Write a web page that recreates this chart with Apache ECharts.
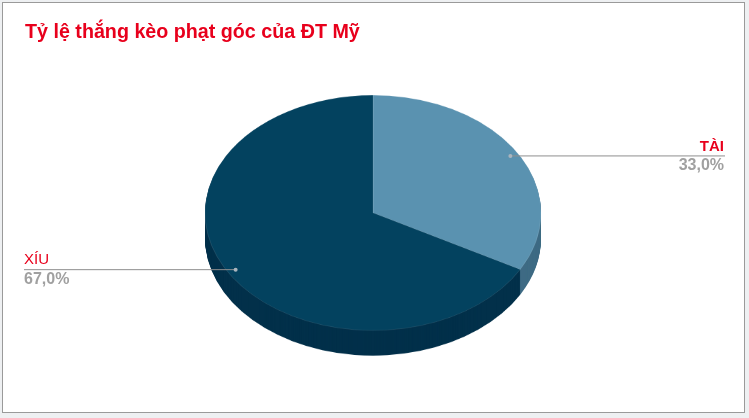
<!DOCTYPE html>
<html lang="vi">
<head>
  <meta charset="UTF-8">
  <title>Tỷ lệ thắng kèo phạt góc của ĐT Mỹ</title>
  <script src="https://cdn.jsdelivr.net/npm/echarts@6/dist/echarts.min.js"></script>
  <style type="text/css">
    html, body { margin: 0; padding: 0; background: #eef0f2; overflow: hidden; }
    #wrap { position: relative; width: 749px; height: 418px; overflow: hidden; }
    /* white chart area with the grey excel frame */
    #frame { position: absolute; left: 2px; top: 2px; width: 741px; height: 409px;
             background: #ffffff; border: 1px solid #9a9a9a; }
    /* pie is drawn round then flattened to look like the tilted excel pie */
    #pie { position: absolute; left: 0; top: 0; width: 749px; height: 600px;
           transform: scaleY(0.7); transform-origin: 0 0; }
    #main { position: absolute; left: 0; top: 0; width: 749px; height: 418px; pointer-events: none; }
  </style>
</head>
<body>
<div id="wrap">
  <div id="frame"></div>
  <div id="pie"></div>
  <div id="main"></div>
</div>

<script type="text/javascript">
// data
var categories = ['TÀI', 'XÍU'];
var values = [33.0, 67.0];
var topColors = ['#5a92b0', '#03425f'];
var sideColors = ['#3e6b84', '#02304a'];

var squash = 0.7;
var depth = 36;          // wall thickness before squash
var cx = 373, cy = 304, radius = 168;

var pieData = [];
for (var i = 0; i < categories.length; i++) {
  pieData.push({name: categories[i], value: values[i]});
}

// side wall: the same pie repeated a little lower each time
var series = [];
for (var d = depth; d >= 1; d--) {
  series.push({
    type: 'pie',
    silent: true,
    animation: false,
    center: [cx, cy + d],
    radius: radius,
    startAngle: 90,
    clockwise: true,
    label: {show: false},
    labelLine: {show: false},
    itemStyle: {
      color: function (p) { return sideColors[p.dataIndex]; },
      borderWidth: 0
    },
    data: pieData
  });
}
// top face
series.push({
  type: 'pie',
  animation: false,
  center: [cx, cy],
  radius: radius,
  startAngle: 90,
  clockwise: true,
  label: {show: false},
  labelLine: {show: false},
  itemStyle: {
    color: function (p) { return topColors[p.dataIndex]; },
    borderColor: 'rgba(255,255,255,0.18)',
    borderWidth: 0.6
  },
  data: pieData
});

var pieChart = echarts.init(document.getElementById('pie'), null, {renderer: 'canvas'});
pieChart.setOption({ animation: false, series: series });

// labels, leader lines, title go on an unsquashed layer
var topData = pieChart.getModel().getSeriesByIndex(series.length - 1).getData();
var total = values.reduce(function (a, b) { return a + b; }, 0);

function fmt(v) {
  return (v / total * 100).toFixed(1).replace('.', ',') + '%';
}

var graphics = [];
for (var k = 0; k < categories.length; k++) {
  var lay = topData.getItemLayout(k);
  var mid = (lay.startAngle + lay.endAngle) / 2;
  var r = lay.r * 0.95;
  var px = lay.cx + Math.cos(mid) * r;
  var py = (lay.cy + Math.sin(mid) * r) * squash;
  var right = Math.cos(mid) > 0;
  var endX = right ? 725 : 24;
  graphics.push({
    type: 'line',
    shape: {x1: px, y1: py, x2: endX, y2: py},
    style: {stroke: '#8f8f8f', lineWidth: 1},
    z: 10
  });
  graphics.push({
    type: 'circle',
    shape: {cx: px, cy: py, r: 2},
    style: {fill: '#a9b4bd'},
    z: 11
  });
  graphics.push({
    type: 'text',
    x: right ? endX - 1 : endX,
    y: py - 2,
    style: {
      text: categories[k],
      fill: '#e8001c',
      font: (right ? 'bold ' : '') + '15px "Liberation Sans", Arial, sans-serif',
      textAlign: right ? 'right' : 'left',
      textVerticalAlign: 'bottom'
    },
    z: 12
  });
  graphics.push({
    type: 'text',
    x: right ? endX - 1 : endX,
    y: py + 2,
    style: {
      text: fmt(values[k]),
      fill: '#a0a0a0',
      font: 'bold 16px "Liberation Sans", Arial, sans-serif',
      textAlign: right ? 'right' : 'left',
      textVerticalAlign: 'top'
    },
    z: 12
  });
}

var mainChart = echarts.init(document.getElementById('main'));
mainChart.setOption({
  animation: false,
  title: {
    text: 'Tỷ lệ thắng kèo phạt góc của ĐT Mỹ',
    left: 20,
    top: 18,
    textStyle: {
      color: '#e8001c',
      fontSize: 19.7,
      fontWeight: 'bold',
      fontFamily: '"Liberation Sans", Arial, sans-serif'
    }
  },
  graphic: {elements: graphics}
});
</script>
</body>
</html>
